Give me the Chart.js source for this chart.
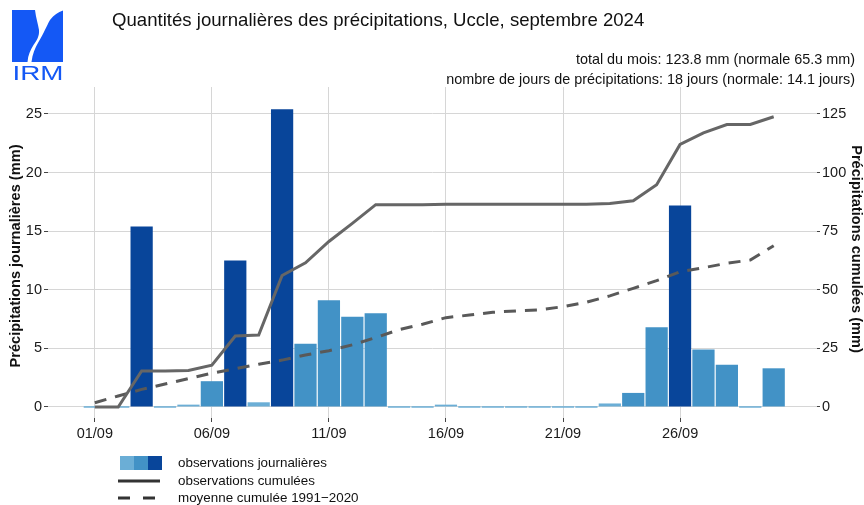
<!DOCTYPE html>
<html>
<head>
<meta charset="utf-8">
<script src="https://cdn.jsdelivr.net/npm/chart.js@4"></script>
<style>
  body { margin: 0; background: #fff; }
  #wrap { position: relative; width: 864px; height: 505px; }
  #logo { position: absolute; left: 0; top: 0; }
</style>
</head>
<body>
<div id="wrap">
  <canvas id="chart" width="864" height="505"></canvas>
  <svg id="logo" width="80" height="90" viewBox="0 0 80 90">
    <rect x="12" y="10" width="51" height="52" fill="#1458f5"/>
    <path d="M35,10 L63,10 L63,10.5 C58,12 54,15 50,20 C46,27 44,33 38.5,42 C35,48 32.5,54 31.5,62 L27.5,62 C28,55 30.5,50 33.5,45 C37,40 39.5,36 39,30 C38,24 36,18 35,10 Z" fill="#fff"/>
    <text x="12.5" y="79.5" font-family="Liberation Sans, Arial, sans-serif" font-size="21" fill="#1458f5" textLength="51" lengthAdjust="spacingAndGlyphs">IRM</text>
  </svg>
</div>
<script>
// jours du mois
const days = [1,2,3,4,5,6,7,8,9,10,11,12,13,14,15,16,17,18,19,20,21,22,23,24,25,26,27,28,29,30];

// precipitations journalieres (mm)
const dailyRain = [0,0,15.4,0,0.2,2.2,12.5,0.4,25.4,5.4,9.1,7.7,8.0,0,0,0.2,0,0,0,0,0,0,0.3,1.2,6.8,17.2,4.9,3.6,0,3.3];

// cumul observe (mm)
const cumulObs = [0,0,15.4,15.4,15.6,17.8,30.3,30.7,56.1,61.5,70.6,78.3,86.3,86.3,86.3,86.5,86.5,86.5,86.5,86.5,86.5,86.5,86.8,88.0,94.8,112.0,116.9,120.5,120.5,123.8];

// moyenne cumulee 1991-2020 (mm)
const cumulNormal = [1.8,4.7,7.5,9.8,12.1,14.4,16.3,18.2,20.0,22.2,24.0,26.5,29.6,33.0,35.3,38.1,39.2,40.4,41.0,41.4,42.8,44.7,47.4,50.6,53.9,57.7,59.4,61.3,62.7,68.8];

const xTickDays = [1,6,11,16,21,26];
const xTickLabels = ['01/09','06/09','11/09','16/09','21/09','26/09'];
const yLeftTicks = [0,5,10,15,20,25];
const yRightTicks = [0,25,50,75,100,125];

const titleText = 'Quantités journalières des précipitations, Uccle, septembre 2024';
const subLines = [
  'total du mois: 123.8 mm (normale 65.3 mm)',
  'nombre de jours de précipitations: 18 jours (normale: 14.1 jours)'
];
const legendLabels = ['observations journalières', 'observations cumulées', 'moyenne cumulée 1991\u22122020'];

const LIGHT = '#6baed6', MID = '#4292c6', DARK = '#08459a';
const FONT = "'Liberation Sans', Arial, sans-serif";

function barColor(v) {
  if (v >= 10) return DARK;
  if (v >= 1) return MID;
  return LIGHT;
}

const decor = {
  id: 'decor',
  beforeDraw(chart) {
    const c = chart.ctx;
    c.save();
    c.fillStyle = '#fff';
    c.fillRect(0, 0, chart.width, chart.height);
    c.restore();
  },
  afterDraw(chart) {
    const c = chart.ctx;
    c.save();
    c.fillStyle = '#111';
    c.textBaseline = 'alphabetic';

    c.font = '18.6px ' + FONT;
    c.textAlign = 'left';
    c.fillText(titleText, 112, 26);

    c.font = '14.4px ' + FONT;
    c.textAlign = 'right';
    c.fillText(subLines[0], 855, 64);
    c.fillText(subLines[1], 855, 84);

    // axis titles
    c.font = 'bold 14.6px ' + FONT;
    c.textAlign = 'center';
    c.textBaseline = 'middle';
    c.save();
    c.translate(16, 256);
    c.rotate(-Math.PI / 2);
    c.fillText('Précipitations journalières (mm)', 0, 0);
    c.restore();
    c.save();
    c.translate(856, 249);
    c.rotate(Math.PI / 2);
    c.fillText('Précipitations cumulées (mm)', 0, 0);
    c.restore();

    // legend
    c.fillStyle = LIGHT; c.fillRect(120, 456, 14, 14);
    c.fillStyle = MID; c.fillRect(134, 456, 14, 14);
    c.fillStyle = DARK; c.fillRect(148, 456, 14, 14);
    c.strokeStyle = '#333';
    c.lineWidth = 3;
    c.beginPath(); c.moveTo(118, 481); c.lineTo(160, 481); c.stroke();
    c.setLineDash([12, 13]);
    c.beginPath(); c.moveTo(118, 498); c.lineTo(160, 498); c.stroke();
    c.setLineDash([]);
    c.fillStyle = '#111';
    c.font = '13.4px ' + FONT;
    c.textAlign = 'left';
    c.fillText(legendLabels[0], 178, 463);
    c.fillText(legendLabels[1], 178, 481);
    c.fillText(legendLabels[2], 178, 498);
    c.restore();
  }
};

const xy = arr => days.map((d, i) => ({ x: d, y: arr[i] }));

new Chart(document.getElementById('chart'), {
  type: 'bar',
  data: {
    datasets: [
      {
        type: 'line',
        data: xy(cumulObs),
        yAxisID: 'y2',
        borderColor: '#666',
        borderWidth: 3,
        pointRadius: 0,
        tension: 0,
        order: 1
      },
      {
        type: 'line',
        data: xy(cumulNormal),
        yAxisID: 'y2',
        borderColor: '#595959',
        borderWidth: 3,
        borderDash: [12, 9],
        pointRadius: 0,
        tension: 0,
        order: 2
      },
      {
        type: 'bar',
        data: xy(dailyRain),
        yAxisID: 'y',
        backgroundColor: dailyRain.map(barColor),
        barPercentage: 0.95,
        categoryPercentage: 1,
        minBarLength: 1.5,
        order: 3
      }
    ]
  },
  options: {
    responsive: false,
    animation: false,
    layout: { padding: { top: 87, left: 0, right: 0, bottom: 0 } },
    plugins: { legend: { display: false }, tooltip: { enabled: false } },
    scales: {
      x: {
        type: 'linear',
        min: -1.0,
        max: 31.85,
        offset: false,
        grid: { offset: false, color: '#d6d6d6', lineWidth: 1, tickColor: '#444', tickLength: 4 },
        border: { display: false },
        afterBuildTicks: s => { s.ticks = xTickDays.map(v => ({ value: v })); },
        afterFit: s => { s.height = 87; },
        ticks: {
          maxRotation: 0,
          padding: 3,
          color: '#1a1a1a',
          font: { family: FONT, size: 14.5 },
          callback: v => xTickLabels[xTickDays.indexOf(v)]
        }
      },
      y: {
        position: 'left',
        min: -0.94,
        max: 27.3,
        grid: { color: '#d6d6d6', lineWidth: 1, tickColor: '#444', tickLength: 4 },
        border: { display: false },
        afterBuildTicks: s => { s.ticks = yLeftTicks.map(v => ({ value: v })); },
        afterFit: s => { s.width = 48; },
        ticks: { padding: 2, color: '#1a1a1a', font: { family: FONT, size: 14.5 } }
      },
      y2: {
        position: 'right',
        min: -4.7,
        max: 136.5,
        grid: { drawOnChartArea: false, tickColor: '#444', tickLength: 3 },
        border: { display: false },
        afterBuildTicks: s => { s.ticks = yRightTicks.map(v => ({ value: v })); },
        afterFit: s => { s.width = 47; },
        ticks: { padding: 2, color: '#1a1a1a', font: { family: FONT, size: 14.5 } }
      }
    }
  },
  plugins: [decor]
});
</script>
</body>
</html>
